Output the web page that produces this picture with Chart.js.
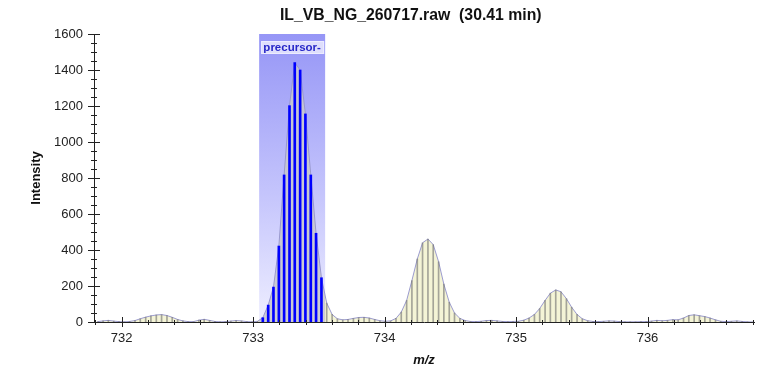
<!DOCTYPE html>
<html>
<head>
<meta charset="utf-8">
<title>IL_VB_NG_260717.raw (30.41 min)</title>
<script src="https://cdn.jsdelivr.net/npm/chart.js@4.4.1/dist/chart.umd.min.js"></script>
<style>
  html, body { margin: 0; padding: 0; background: #ffffff; }
  #wrap { width: 769px; height: 369px; }
</style>
</head>
<body>
<div id="wrap"><canvas id="spectrum" width="769" height="369"></canvas></div>
<script>
// Profile spectrum: m/z sampling points and intensities
const mzValues = [
  731.818, 731.859, 731.899, 731.940, 731.980, 732.021, 732.061, 732.102, 732.142, 732.183,
  732.223, 732.264, 732.304, 732.345, 732.385, 732.426, 732.466, 732.507, 732.547, 732.588,
  732.628, 732.669, 732.709, 732.750, 732.790, 732.831, 732.871, 732.912, 732.952, 732.993,
  733.034, 733.074, 733.115, 733.155, 733.196, 733.236, 733.277, 733.317, 733.358, 733.398,
  733.439, 733.479, 733.520, 733.560, 733.601, 733.641, 733.682, 733.722, 733.763, 733.803,
  733.844, 733.884, 733.925, 733.965, 734.006, 734.046, 734.087, 734.127, 734.168, 734.208,
  734.249, 734.289, 734.330, 734.370, 734.411, 734.451, 734.492, 734.532, 734.573, 734.613,
  734.654, 734.694, 734.735, 734.775, 734.816, 734.856, 734.897, 734.937, 734.978, 735.018,
  735.059, 735.099, 735.140, 735.180, 735.221, 735.261, 735.302, 735.342, 735.383, 735.423,
  735.464, 735.504, 735.545, 735.585, 735.626, 735.666, 735.707, 735.747, 735.788, 735.828,
  735.869, 735.909, 735.950, 735.990, 736.031, 736.071, 736.112, 736.152, 736.193, 736.233,
  736.274, 736.314, 736.355, 736.395, 736.436, 736.476, 736.517, 736.557, 736.598, 736.638,
  736.679, 736.719, 736.760, 736.800
];
const intensityValues = [
  2, 6, 9, 5, 2, 1, 3, 8, 18, 27,
  34, 39, 41, 36, 26, 14, 6, 2, 2, 10,
  15, 9, 3, 1, 2, 5, 8, 6, 2, 1,
  4, 24, 94, 194, 422, 817, 1202, 1441, 1400, 1156,
  817, 493, 246, 105, 42, 18, 12, 14, 20, 25,
  26, 22, 14, 7, 4, 6, 20, 55, 120, 230,
  350, 440, 461, 430, 335, 210, 110, 50, 20, 8,
  3, 2, 4, 8, 9, 6, 3, 2, 3, 4,
  10, 22, 42, 75, 120, 160, 178, 168, 130, 82,
  42, 18, 7, 3, 2, 4, 6, 5, 2, 1,
  1, 1, 2, 2, 5, 9, 7, 9, 13, 12,
  22, 36, 40, 35, 30, 22, 12, 4, 2, 4,
  6, 3, 1, 0
];

// Isolation window of the precursor (m/z)
const precursorRange = [733.046, 733.548];
const precursorLabel = 'precursor-';

// Axis ticks
const xMajorTicks = [732, 733, 734, 735, 736];
const xMinorStep = 0.2;
const yMajorTicks = [0, 200, 400, 600, 800, 1000, 1200, 1400, 1600];
const yMinorStep = 50;

const titleText = 'IL_VB_NG_260717.raw  (30.41 min)';
const xTitle = 'm/z';
const yTitle = 'Intensity';

const FONT = '"Liberation Sans", Arial, Helvetica, sans-serif';

const inWindow = (mz) => mz >= precursorRange[0] && mz <= precursorRange[1];

const profilePoints = mzValues.map((mz, i) => ({ x: mz, y: intensityValues[i] }));
const otherSticks = profilePoints.filter(p => !inWindow(p.x));
const precursorSticks = profilePoints.filter(p => inWindow(p.x));

// Fill colour: pale yellow outside the isolation window, grey inside it
function profileFill(context) {
  const chart = context.chart;
  const area = chart.chartArea;
  const xs = chart.scales.x;
  if (!area || !xs) return '#f4f4d6';
  const g = chart.ctx.createLinearGradient(area.left, 0, area.right, 0);
  const w = area.right - area.left;
  const f1 = Math.min(1, Math.max(0, (xs.getPixelForValue(precursorRange[0]) - area.left) / w));
  const f2 = Math.min(1, Math.max(0, (xs.getPixelForValue(precursorRange[1]) - area.left) / w));
  g.addColorStop(0, '#f4f4d6');
  g.addColorStop(f1, '#f4f4d6');
  g.addColorStop(f1, 'rgba(200,200,206,0.9)');
  g.addColorStop(f2, 'rgba(200,200,206,0.9)');
  g.addColorStop(f2, '#f4f4d6');
  g.addColorStop(1, '#f4f4d6');
  return g;
}

// Shaded isolation window with its label
const windowPlugin = {
  id: 'isolationWindow',
  beforeDatasetsDraw(chart) {
    const { ctx, chartArea: a, scales: { x } } = chart;
    const x1 = x.getPixelForValue(precursorRange[0]);
    const x2 = x.getPixelForValue(precursorRange[1]);
    const g = ctx.createLinearGradient(0, a.top, 0, a.bottom);
    g.addColorStop(0, 'rgb(150,150,246)');
    g.addColorStop(0.55, 'rgb(196,196,252)');
    g.addColorStop(1, 'rgb(238,238,255)');
    ctx.save();
    ctx.fillStyle = g;
    ctx.fillRect(x1, a.top, x2 - x1, a.bottom - a.top);
    ctx.restore();
  },
  afterDatasetsDraw(chart) {
    const { ctx, chartArea: a, scales: { x } } = chart;
    const x1 = x.getPixelForValue(precursorRange[0]);
    const x2 = x.getPixelForValue(precursorRange[1]);
    ctx.save();
    ctx.fillStyle = 'rgb(222,222,252)';
    ctx.strokeStyle = 'rgb(236,236,255)';
    ctx.lineWidth = 1;
    ctx.fillRect(x1 + 2, a.top + 7, x2 - x1 - 3, 13);
    ctx.strokeRect(x1 + 2.5, a.top + 7.5, x2 - x1 - 4, 12);
    ctx.fillStyle = 'rgb(40,40,200)';
    ctx.font = 'bold 11.5px ' + FONT;
    ctx.textAlign = 'center';
    ctx.textBaseline = 'middle';
    ctx.fillText(precursorLabel, (x1 + x2) / 2, a.top + 14);
    ctx.restore();
  }
};

// Tick marks crossing the axis lines, major and minor
const tickPlugin = {
  id: 'crossTicks',
  afterDraw(chart) {
    const { ctx, chartArea: a, scales: { x, y } } = chart;
    ctx.save();
    ctx.strokeStyle = '#222';
    ctx.lineWidth = 1;
    ctx.beginPath();
    const xStart = Math.ceil(x.min / xMinorStep - 1e-6);
    const xEnd = Math.floor(x.max / xMinorStep + 1e-6);
    for (let k = xStart; k <= xEnd; k++) {
      const v = k * xMinorStep;
      const major = xMajorTicks.some(t => Math.abs(t - v) < 1e-6);
      const px = Math.round(x.getPixelForValue(v)) + 0.5;
      const up = major ? 5 : 2, down = major ? 5 : 3;
      ctx.moveTo(px, a.bottom - up);
      ctx.lineTo(px, a.bottom + down);
    }
    for (let v = y.min; v <= y.max + 1e-6; v += yMinorStep) {
      const major = yMajorTicks.includes(v);
      const py = Math.round(y.getPixelForValue(v)) + 0.5;
      const half = major ? 6 : 3;
      ctx.moveTo(a.left - half, py);
      ctx.lineTo(a.left + half, py);
    }
    ctx.stroke();
    ctx.restore();
  }
};

// Chart heading
const headingPlugin = {
  id: 'heading',
  afterDraw(chart) {
    const { ctx, chartArea: a } = chart;
    ctx.save();
    ctx.fillStyle = '#111';
    ctx.font = 'bold 15.8px ' + FONT;
    ctx.textAlign = 'center';
    ctx.textBaseline = 'middle';
    ctx.fillText(titleText, a.left + (a.right - a.left) * 0.48, 16);
    ctx.restore();
  }
};

new Chart(document.getElementById('spectrum'), {
  type: 'line',
  data: {
    datasets: [
      {
        label: 'precursor sticks',
        type: 'bar',
        data: precursorSticks,
        backgroundColor: '#0000ff',
        borderWidth: 0,
        barThickness: 2,
        grouped: false,
        order: 1
      },
      {
        label: 'sticks',
        type: 'bar',
        data: otherSticks,
        backgroundColor: 'rgba(110,110,110,0.6)',
        borderWidth: 0,
        barThickness: 1,
        grouped: false,
        order: 2
      },
      {
        label: 'profile',
        type: 'line',
        data: profilePoints,
        borderColor: 'rgba(150,150,205,0.95)',
        borderWidth: 1,
        backgroundColor: profileFill,
        fill: 'origin',
        tension: 0,
        pointRadius: 0,
        order: 3
      }
    ]
  },
  options: {
    responsive: false,
    animation: false,
    events: [],
    layout: { padding: { top: 34, right: 15, left: 0, bottom: 0 } },
    plugins: {
      legend: { display: false },
      tooltip: { enabled: false },
      title: { display: false }
    },
    scales: {
      x: {
        type: 'linear',
        min: 731.79,
        max: 736.81,
        offset: false,
        grid: { display: false, drawTicks: false },
        border: { display: true, color: '#222', width: 1 },
        afterBuildTicks(scale) { scale.ticks = xMajorTicks.map(v => ({ value: v })); },
        afterFit(scale) { scale.height = 47; },
        ticks: {
          padding: 9,
          color: '#222',
          font: { family: FONT, size: 13 },
          maxRotation: 0,
          callback: (v) => String(v)
        },
        title: {
          display: true,
          text: xTitle,
          color: '#111',
          font: { family: FONT, size: 13, weight: 'bold', style: 'italic' },
          padding: { top: 0, bottom: 1 }
        }
      },
      y: {
        type: 'linear',
        min: 0,
        max: 1600,
        grid: { display: false, drawTicks: false },
        border: { display: true, color: '#222', width: 1 },
        afterBuildTicks(scale) { scale.ticks = yMajorTicks.map(v => ({ value: v })); },
        afterFit(scale) { scale.width = 94; },
        ticks: {
          padding: 11,
          color: '#222',
          font: { family: FONT, size: 13 },
          callback: (v) => String(v)
        },
        title: {
          display: true,
          text: yTitle,
          color: '#111',
          font: { family: FONT, size: 13, weight: 'bold' },
          padding: { top: 29, bottom: 0 }
        }
      }
    }
  },
  plugins: [windowPlugin, tickPlugin, headingPlugin]
});
</script>
</body>
</html>
